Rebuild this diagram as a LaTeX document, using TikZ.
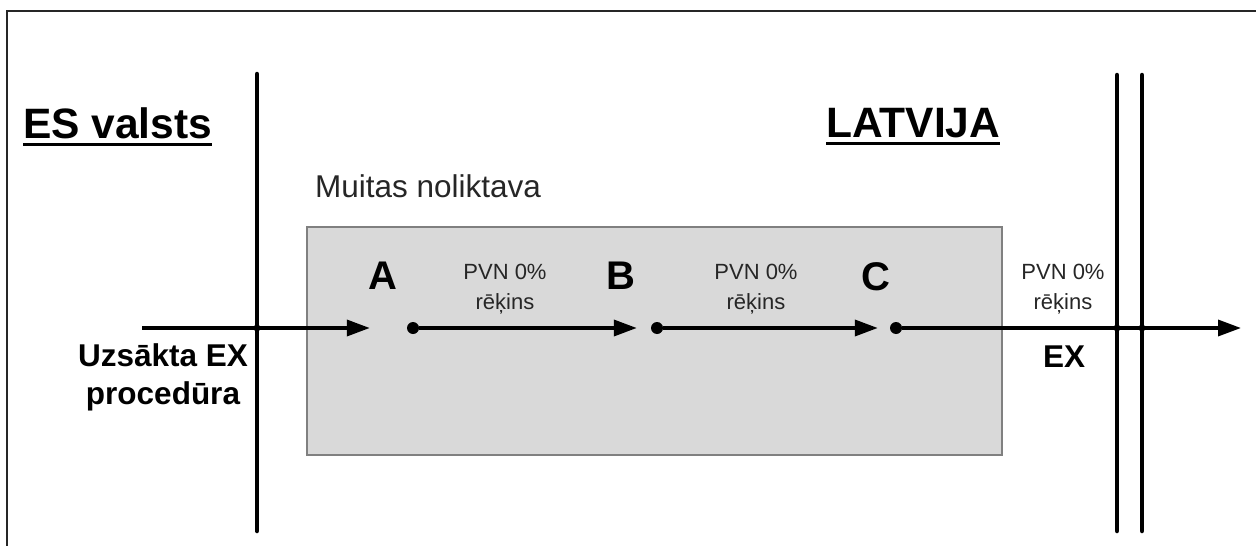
\documentclass[tikz,border=0pt]{standalone}
\usepackage{fontspec}
\setmainfont{Liberation Sans}
\usetikzlibrary{arrows.meta}
\begin{document}
\begin{tikzpicture}[x=1pt,y=-1pt,
  flow/.style={line width=3.5pt,-{Triangle[length=23pt,width=16pt]}},
  wall/.style={line width=4.5pt,line cap=round},
  dot/.style={circle,fill=black,inner sep=0,minimum size=12pt},
  jdot/.style={circle,fill=black,inner sep=0,minimum size=7pt},
  title/.style={font=\bfseries\fontsize{42.5}{42.5}\selectfont,inner sep=0},
  letter/.style={font=\bfseries\fontsize{40}{40}\selectfont,inner sep=0},
  lab/.style={font=\fontsize{22}{30}\selectfont,align=center,inner sep=0,text=black!85},
  blab/.style={font=\bfseries\fontsize{31.5}{38}\selectfont,align=center,inner sep=0},
  uline/.style={line width=3pt},
  boxst/.style={fill=black!15,draw=black!50,line width=1.5pt}]
\useasboundingbox (0,0) rectangle (1256,546);
% frame
\draw[line width=2pt,draw=black!85] (1256,11) -- (7,11) -- (7,546);
% warehouse
\path[boxst] (307,227) rectangle (1002,455);
\node[anchor=base west,inner sep=0,font=\fontsize{31.5}{31.5}\selectfont,text=black!85] (mn) at (315,197) {Muitas noliktava};
% titles
\node[title,anchor=base west] (es) at (23,138) {ES valsts};
\draw[uline] ([yshift=-6pt]es.base west) -- ([yshift=-6pt]es.base east);
\node[title,anchor=base west] (lv) at (826,137) {LATVIJA};
\draw[uline] ([yshift=-6pt]lv.base west) -- ([yshift=-6pt]lv.base east);
% borders
\coordinate (w1t) at (257,74);  \coordinate (w1b) at (257,531);
\coordinate (w2t) at (1117,75); \coordinate (w2b) at (1117,531);
\coordinate (w3t) at (1142,75); \coordinate (w3b) at (1142,531);
\draw[wall] (w1t) -- (w1b);
\draw[wall] (w2t) -- (w2b);
\draw[wall] (w3t) -- (w3b);
% flow
\coordinate (start) at (142,328);
\coordinate (end) at (1241,328);
\node[dot] (a) at (413,328) {};
\node[dot] (b) at (657,328) {};
\node[dot] (c) at (896,328) {};
\draw[flow,shorten >=37pt] (start) -- (a);
\draw[flow,shorten >=14pt] (a) -- (b);
\draw[flow,shorten >=12pt] (b) -- (c);
\draw[flow] (c) -- (end);
\node[jdot] (j1) at (257,328) {};
\node[jdot] (j2) at (1117,328) {};
\node[jdot] (j3) at (1142,328) {};
% letters
\node[letter] (la) at (383,276) {A};
\node[letter] (lb) at (621,276) {B};
\node[letter] (lc) at (876,277) {C};
% labels
\node[lab] (p1) at (505,289) {PVN 0\%\\rēķins};
\node[lab] (p2) at (756,289) {PVN 0\%\\rēķins};
\node[lab] (p3) at (1063,289) {PVN 0\%\\rēķins};
\node[blab] (ex) at (1064,357) {EX};
\node[blab] (uz) at (163,377) {Uzsākta EX\\procedūra};
\end{tikzpicture}
\end{document}
